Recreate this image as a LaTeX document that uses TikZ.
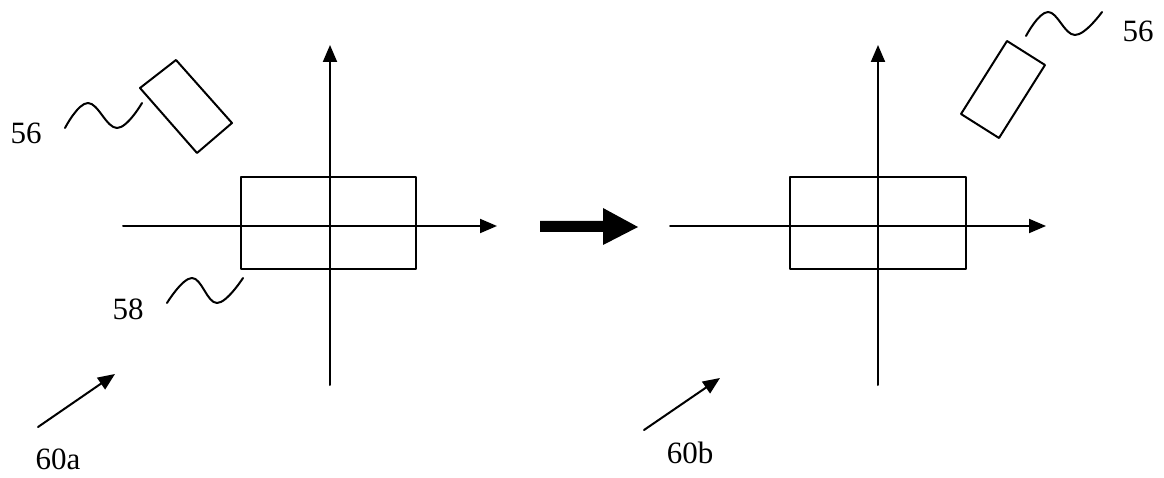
\documentclass[tikz,border=0pt]{standalone}
\usepackage{fontspec}
\setmainfont{Liberation Serif}
\usetikzlibrary{arrows.meta}
\begin{document}
\begin{tikzpicture}[x=1pt, y=-1pt, font=\fontsize{31}{34}\selectfont, line width=2pt, line join=round, line cap=round, >={Triangle[length=17pt,width=14pt]}]
	\useasboundingbox (0,0) rectangle (1164,478);
	% Left view
	\coordinate (XA) at (123,226);
	\coordinate (XB) at (497,226);
	\coordinate (YA) at (330,385);
	\coordinate (YB) at (330,45);
	\coordinate (P) at (241,177);
	\coordinate (Q) at (416,269);
	\coordinate (A) at (140,88);
	\coordinate (B) at (176,60);
	\coordinate (C) at (232,123);
	\coordinate (D) at (197,153);
	\draw[->] (XA)--(XB);
	\draw[->] (YA)--(YB);
	\draw (P) rectangle (Q);
	\draw (A)--(B)--(C)--(D)--cycle;
	\node[inner sep=0] (Na) at (26,133) {56};
	\node[inner sep=0] (Nb) at (128,309) {58};
	\node[inner sep=0] (Nc) at (58,459) {60a};
	\draw plot[smooth, tension=0.7] coordinates {(65,128) (88,103) (117,128) (142,103)};
	\draw plot[smooth, tension=0.7] coordinates {(167,303) (192,278) (217,303) (243,278)};
	\coordinate (E) at (38,427);
	\coordinate (F) at (115,374);
	\draw[->] (E)--(F);
	% Big arrow
	\fill (540,221)--(603,221)--(603,208)--(638,227)--(603,245)--(603,232)--(540,232)--cycle;
	% Right view
	\coordinate (XC) at (670,226);
	\coordinate (XD) at (1046,226);
	\coordinate (YC) at (878,385);
	\coordinate (YD) at (878,45);
	\coordinate (R) at (790,177);
	\coordinate (S) at (966,269);
	\coordinate (G) at (1007,41);
	\coordinate (H) at (1045,65);
	\coordinate (I) at (999,138);
	\coordinate (J) at (961,114);
	\draw[->] (XC)--(XD);
	\draw[->] (YC)--(YD);
	\draw (R) rectangle (S);
	\draw (G)--(H)--(I)--(J)--cycle;
	\node[inner sep=0] (Nd) at (1138,31) {56};
	\node[inner sep=0] (Ne) at (690,453) {60b};
	\draw plot[smooth, tension=0.7] coordinates {(1026,36) (1048,12) (1075,35) (1102,12)};
	\coordinate (K) at (644,430);
	\coordinate (L) at (720,378);
	\draw[->] (K)--(L);
\end{tikzpicture}
\end{document}
